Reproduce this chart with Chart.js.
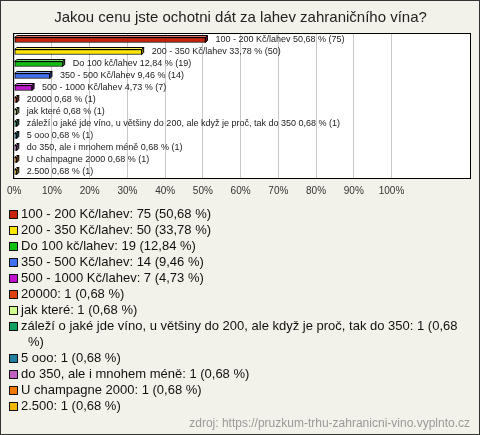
<!DOCTYPE html>
<html>
<head>
<meta charset="utf-8">
<script src="https://cdn.jsdelivr.net/npm/chart.js@4/dist/chart.umd.min.js"></script>
<style>
  html, body { margin: 0; padding: 0; background: #fff; }
  #wrap { position: relative; width: 480px; height: 435px; background: #f3f2ea; outline: 1px solid #333; outline-offset: -1px; overflow: hidden; font-family: "Liberation Sans", Arial, sans-serif; }
  #chart { position: absolute; left: 0; top: 0; }
  #legend { position: absolute; left: 0; top: 206px; width: 472px; }
  .item { display: flex; align-items: flex-start; font-size: 13px; line-height: 16px; color: #111; }
  .sw { flex: 0 0 auto; width: 7px; height: 7px; border: 1px solid #111; margin: 4px 3px 0 9px; }
  .txt { flex: 1 1 auto; padding-left: 7px; text-indent: -7px; }
  #source { position: absolute; right: 10px; top: 415px; font-size: 12px; line-height: 16px; color: #999; }
</style>
</head>
<body>
<div id="wrap">
  <canvas id="chart" width="480" height="207"></canvas>
  <div id="legend"></div>
  <div id="source">zdroj: https://pruzkum-trhu-zahranicni-vino.vyplnto.cz</div>
</div>
<script>
const titleText = "Jakou cenu jste ochotni dát za lahev zahraničního vína?";
const categories = [
  "100 - 200 Kč/lahev",
  "200 - 350 Kč/lahev",
  "Do 100 kč/lahev",
  "350 - 500 Kč/lahev",
  "500 - 1000 Kč/lahev",
  "20000",
  "jak které",
  "záleží o jaké jde víno, u většiny do 200, ale když je proč, tak do 350",
  "5 ooo",
  "do 350, ale i mnohem méně",
  "U champagne 2000",
  "2.500"
];
const counts = [75, 50, 19, 14, 7, 1, 1, 1, 1, 1, 1, 1];
const percents = [50.68, 33.78, 12.84, 9.46, 4.73, 0.68, 0.68, 0.68, 0.68, 0.68, 0.68, 0.68];
const tickValues = [0, 10, 20, 30, 40, 50, 60, 70, 80, 90, 100];
const colors = ["#c8200a", "#ffe600", "#10c010", "#4070f0", "#c010d0", "#e04010", "#d0ff90", "#10a060", "#207fa0", "#c060c0", "#f07800", "#f0b800"];
const sourceText = "zdroj: https://pruzkum-trhu-zahranicni-vino.vyplnto.cz";

const fmt = v => v.toFixed(2).replace('.', ',');

// HTML legend
const legend = document.getElementById('legend');
categories.forEach((c, i) => {
  const row = document.createElement('div');
  row.className = 'item';
  const sw = document.createElement('span');
  sw.className = 'sw';
  sw.style.background = colors[i];
  const t = document.createElement('span');
  t.className = 'txt';
  t.textContent = c + ': ' + counts[i] + ' (' + fmt(percents[i]) + ' %)';
  row.appendChild(sw); row.appendChild(t);
  legend.appendChild(row);
});
document.getElementById('source').textContent = sourceText;

function shade(hex, f) {
  const n = parseInt(hex.slice(1), 16);
  let r = (n >> 16) & 255, g = (n >> 8) & 255, b = n & 255;
  if (f < 0) { r = r * (1 + f); g = g * (1 + f); b = b * (1 + f); }
  else { r = r + (255 - r) * f; g = g + (255 - g) * f; b = b + (255 - b) * f; }
  return 'rgb(' + Math.round(r) + ',' + Math.round(g) + ',' + Math.round(b) + ')';
}

const framePlugin = {
  id: 'frame',
  beforeDraw(chart) {
    const a = chart.chartArea, ctx = chart.ctx;
    ctx.save();
    ctx.fillStyle = '#ffffff';
    ctx.fillRect(a.left, a.top, a.right - a.left, a.bottom - a.top);
    ctx.restore();
  },
  afterDraw(chart) {
    const a = chart.chartArea, ctx = chart.ctx;
    ctx.save();
    ctx.strokeStyle = '#000';
    ctx.lineWidth = 1;
    ctx.strokeRect(Math.round(a.left) - 0.5, Math.round(a.top) - 0.5, Math.round(a.right - a.left) + 1, Math.round(a.bottom - a.top) + 1);
    ctx.restore();
  }
};

const bar3dPlugin = {
  id: 'bar3d',
  afterDatasetsDraw(chart) {
    const ctx = chart.ctx;
    const meta = chart.getDatasetMeta(0);
    const d = 2;
    ctx.save();
    meta.data.forEach((el, i) => {
      const x1 = el.base, x2 = el.x, y1 = el.y - el.height / 2, y2 = el.y + el.height / 2;
      ctx.lineWidth = 1;
      ctx.strokeStyle = '#000';
      // top face
      ctx.beginPath();
      ctx.moveTo(x1, y1); ctx.lineTo(x1 + d, y1 - d); ctx.lineTo(x2 + d, y1 - d); ctx.lineTo(x2, y1); ctx.closePath();
      ctx.fillStyle = shade(colors[i], 0.35); ctx.fill(); ctx.stroke();
      // right face
      ctx.beginPath();
      ctx.moveTo(x2, y1); ctx.lineTo(x2 + d, y1 - d); ctx.lineTo(x2 + d, y2 - d); ctx.lineTo(x2, y2); ctx.closePath();
      ctx.fillStyle = shade(colors[i], -0.4); ctx.fill(); ctx.stroke();
      // label
      ctx.fillStyle = '#222';
      ctx.font = '9px "Liberation Sans", Arial, sans-serif';
      ctx.textBaseline = 'middle';
      ctx.textAlign = 'left';
      ctx.fillText(categories[i] + ' ' + fmt(percents[i]) + ' % (' + counts[i] + ')', x2 + 10, el.y);
    });
    ctx.restore();
  }
};

new Chart(document.getElementById('chart'), {
  type: 'bar',
  data: {
    labels: categories,
    datasets: [{
      data: percents,
      backgroundColor: colors,
      borderColor: '#000',
      borderWidth: 1,
      borderSkipped: false,
      barThickness: 5
    }]
  },
  options: {
    indexAxis: 'y',
    responsive: false,
    animation: false,
    layout: { padding: { left: 11, right: 10, top: 0, bottom: 3 } },
    plugins: {
      legend: { display: false },
      tooltip: { enabled: false },
      title: {
        display: true,
        text: titleText,
        color: '#222',
        font: { family: '"Liberation Sans", Arial, sans-serif', size: 15, weight: 'normal' },
        padding: { top: 9, bottom: 7 }
      }
    },
    scales: {
      x: {
        min: 0,
        max: 120.8,
        afterBuildTicks(scale) { scale.ticks = tickValues.map(v => ({ value: v })); },
        ticks: {
          callback: v => v + '%',
          color: '#333',
          padding: 7,
          maxRotation: 0,
          autoSkip: false,
          font: { family: '"Liberation Sans", Arial, sans-serif', size: 10 }
        },
        grid: { color: '#c8c8c8', drawTicks: false },
        border: { display: false }
      },
      y: { display: false }
    }
  },
  plugins: [framePlugin, bar3dPlugin]
});
</script>
</body>
</html>
